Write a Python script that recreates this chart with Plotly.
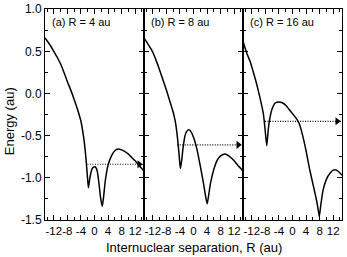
import plotly.graph_objects as go

# ---- data ----
x_a = [-14.6, -13, -12, -11, -10, -9, -8, -7, -6, -5, -4, -3.5, -3, -2.5, -2.1, -1.8,
       -1.5, -1.0, -0.5, 0.2, 0.8, 1.3, 1.8, 2.3, 2.7, 3.2, 4, 5, 6, 7, 8, 9, 10, 11, 12, 13, 14.6]
e_a = [0.66, 0.57, 0.50, 0.43, 0.35, 0.25, 0.14, 0.04, -0.07, -0.19, -0.33, -0.44, -0.58, -0.78, -0.98, -1.12,
       -1.04, -0.93, -0.88, -0.87, -0.92, -1.06, -1.24, -1.34, -1.22, -1.03, -0.85, -0.74, -0.68, -0.66, -0.67, -0.69, -0.72, -0.76, -0.80, -0.85, -0.92]

x_b = [-14.6, -13, -12, -11, -10, -9, -8, -7, -6, -5.3, -4.8, -4.4, -4.1, -3.85, -3.5, -3.0,
       -2.5, -2.0, -1.4, -0.8, 0, 1, 2, 3, 3.6, 4.05, 4.5, 5.0, 6.0, 7.0, 8.0, 9.0, 10, 11, 12, 13, 14.6]
e_b = [0.66, 0.56, 0.49, 0.39, 0.28, 0.16, 0.04, -0.09, -0.22, -0.35, -0.50, -0.66, -0.80, -0.89, -0.80, -0.62,
       -0.50, -0.45, -0.43, -0.45, -0.52, -0.66, -0.86, -1.08, -1.23, -1.31, -1.20, -1.07, -0.90, -0.79, -0.74, -0.72, -0.73, -0.76, -0.80, -0.85, -0.92]

x_c = [-14.6, -13.5, -12.5, -11.6, -10.5, -9.6, -8.6, -8.1, -7.6, -7.2, -6.8, -6, -5, -4, -3, -2,
       -1, 0, 1, 2, 3, 4, 5, 6, 7, 7.5, 7.9, 8.3, 9, 10, 11, 12, 13, 14.6]
e_c = [0.62, 0.48, 0.38, 0.26, 0.10, -0.05, -0.24, -0.42, -0.62, -0.45, -0.32, -0.18, -0.11, -0.10, -0.11, -0.14,
       -0.19, -0.24, -0.29, -0.36, -0.50, -0.68, -0.89, -1.07, -1.25, -1.36, -1.46, -1.34, -1.15, -1.02, -0.95, -0.91, -0.91, -0.97]

level_energy = [-0.84, -0.61, -0.33]
level_start = [-2.1, -4.8, -8.1]
panel_labels = ["(a) R = 4 au", "(b) R = 8 au", "(c) R = 16 au"]

x_tickvals = [-12, -8, -4, 0, 4, 8, 12]
x_ticktext = ["-12", "-8", "-4", "0", "4", "8", "12"]
x_minor = [-14, -10, -6, -2, 2, 6, 10, 14]
y_tickvals = [-1.5, -1.0, -0.5, 0.0, 0.5, 1.0]
y_ticktext = ["-1.5", "-1.0", "-0.5", "0.0", "0.5", "1.0"]
y_minor = [-1.25, -0.75, -0.25, 0.25, 0.75]

X_RANGE = [-14.6, 14.6]
Y_RANGE = [-1.502, 1.003]
ARROW_X = 13.2

FONT = "Liberation Sans, Arial, sans-serif"

fig = go.Figure()
curves = [(x_a, e_a), (x_b, e_b), (x_c, e_c)]
for i, (xs, ys) in enumerate(curves):
    xa = "x" if i == 0 else f"x{i+1}"
    ya = "y" if i == 0 else f"y{i+1}"
    fig.add_trace(go.Scatter(x=xs, y=ys, mode="lines",
                             line=dict(color="black", width=1.5, shape="spline", smoothing=0.5),
                             xaxis=xa, yaxis=ya, showlegend=False, hoverinfo="skip"))
    fig.add_trace(go.Scatter(x=[level_start[i], X_RANGE[1]], y=[level_energy[i]] * 2, mode="lines",
                             line=dict(color="black", width=1.2, dash="1px,1.5px"),
                             xaxis=xa, yaxis=ya, showlegend=False, hoverinfo="skip"))
    fig.add_trace(go.Scatter(x=[ARROW_X], y=[level_energy[i]], mode="markers",
                             marker=dict(symbol="triangle-right", size=7, color="black"),
                             xaxis=xa, yaxis=ya, showlegend=False, hoverinfo="skip"))

layout = dict(width=347, height=257, margin=dict(l=45, r=5, t=9, b=37, autoexpand=False),
              paper_bgcolor="white", plot_bgcolor="white",
              font=dict(family=FONT, size=12, color="black"))

for i in range(3):
    key = "xaxis" if i == 0 else f"xaxis{i+1}"
    layout[key] = dict(domain=[i / 3, (i + 1) / 3], range=X_RANGE, anchor="y" if i == 0 else f"y{i+1}",
                       tickmode="array", tickvals=x_tickvals, ticktext=x_ticktext, tickangle=0,
                       ticks="inside", ticklen=5, tickwidth=1, tickcolor="black",
                       minor=dict(tickmode="array", tickvals=x_minor, ticks="inside", ticklen=3, tickcolor="black"),
                       showline=True, linecolor="black", linewidth=1, mirror="ticks",
                       showgrid=False, zeroline=False, tickfont=dict(size=11.5),
                       ticklabeloverflow="allow")
    ykey = "yaxis" if i == 0 else f"yaxis{i+1}"
    layout[ykey] = dict(range=Y_RANGE, anchor="x" if i == 0 else f"x{i+1}",
                        tickmode="array", tickvals=y_tickvals, ticktext=y_ticktext,
                        ticks="inside", ticklen=5, tickwidth=1, tickcolor="black",
                        minor=dict(tickmode="array", tickvals=y_minor, ticks="inside", ticklen=3, tickcolor="black"),
                        showline=True, linecolor="black", linewidth=1, mirror="ticks",
                        showgrid=False, zeroline=False, showticklabels=(i == 0),
                        tickfont=dict(size=12), ticklabeloverflow="allow")
    if i > 0:
        layout[ykey]["matches"] = "y"

fig.update_layout(**layout)

for i, lab in enumerate(panel_labels):
    xa = "x" if i == 0 else f"x{i+1}"
    ya = "y" if i == 0 else f"y{i+1}"
    fig.add_annotation(text=lab, xref=f"{xa} domain", yref=f"{ya} domain", x=0.05, y=0.94,
                       xanchor="left", yanchor="middle", showarrow=False, font=dict(size=11))

fig.add_annotation(text="Internuclear separation, R (au)", xref="paper", yref="paper",
                   x=0.5, y=-0.13, xanchor="center", yanchor="middle", showarrow=False,
                   font=dict(size=13))
fig.add_annotation(text="Energy (au)", xref="paper", yref="paper", x=-0.12, y=0.47,
                   xanchor="center", yanchor="middle", textangle=-90, showarrow=False,
                   font=dict(size=13))

fig.write_html("out.html")
